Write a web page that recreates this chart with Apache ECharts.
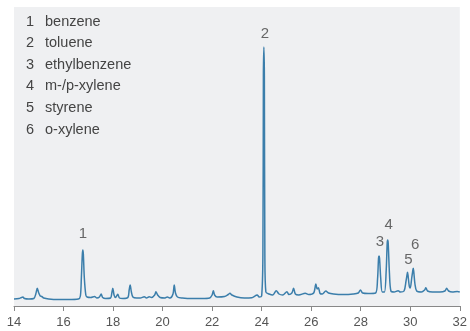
<!DOCTYPE html>
<html>
<head>
<meta charset="utf-8">
<script src="https://cdn.jsdelivr.net/npm/echarts@6/dist/echarts.min.js"></script>
<style>html,body{margin:0;padding:0;background:#fff}#c{width:470px;height:331px}</style>
</head>
<body>
<div id="c"></div>
<script>
// retention time (min)
var times = [
  14.00,14.2,14.3,14.36,14.42,14.6,14.8,14.88,14.94,15.0,
  15.06,15.12,15.2,15.4,15.8,16.2,16.6,16.68,16.72,16.76,
  16.78,16.80,16.84,16.9,16.95,17.1,17.25,17.35,17.45,17.52,
  17.58,17.7,17.9,17.95,17.99,18.04,18.1,18.19,18.26,18.4,
  18.6,18.65,18.69,18.74,18.8,18.95,19.1,19.26,19.35,19.46,
  19.55,19.68,19.73,19.8,19.9,20.1,20.19,20.3,20.42,20.47,
  20.52,20.6,20.8,21.2,21.6,21.9,22.0,22.05,22.1,22.2,
  22.5,22.65,22.72,22.8,23.0,23.3,23.6,23.82,23.9,24.0,
  24.05,24.07,24.09,24.11,24.13,24.17,24.3,24.45,24.59,24.7,
  24.85,25.02,25.1,25.22,25.29,25.36,25.5,25.76,25.9,26.1,
  26.19,26.24,26.29,26.36,26.45,26.59,26.7,26.9,27.3,27.7,
  27.9,27.99,28.08,28.3,28.6,28.68,28.72,28.74,28.76,28.81,
  28.87,28.96,29.03,29.07,29.09,29.11,29.16,29.22,29.35,29.51,
  29.6,29.75,29.83,29.87,29.89,29.91,29.96,30.0,30.06,30.10,
  30.12,30.14,30.19,30.26,30.45,30.58,30.63,30.7,30.9,31.2,
  31.4,31.47,31.55,31.7,31.9,32.0
];
// detector signal (arbitrary units)
var signal = [
  7,7.5,8.5,9,7.5,7,7.5,12,17.7,13,
  10,9.5,8,7,6.5,6.5,7,10,28,52,
  56,52,28,11,9,8.5,9.5,8,9,12,
  8.5,7.5,8,13,17.7,11,8.5,11.7,8,7.5,
  8.5,16,21,14,9,8,8,9.3,8,9.3,
  8.5,11,14.3,11,8.5,8,9,8,12,21,
  13,9,8,7.5,7.5,8,11,15.3,11,9,
  9.5,11.5,12.7,11,9,8,8.3,11,9,10,
  50,230,259,230,50,14,12,11,15.3,12,
  11,14.3,11.5,13,17.7,12,11,12.7,11.5,13,
  22,17,18.3,12.5,12,15,13,12,11.5,12,
  13,16,13,12.5,13,27,48,50,48,27,
  14,14,36,63,66,63,33,15,14,15.3,
  14,15,25,31,33.7,31,20,18,28,35,
  37.7,35,22,15,14,16,18.3,15,14,14,
  15,17.7,15,14,14.5,14
];
// numbered peaks
var peakNumbers = ['1','2','3','4','5','6'];
var peakTimes = [16.78,24.09,28.74,29.09,29.89,30.12];
var peakTops = [56,259,50,66,33.7,37.7];
var compounds = ['benzene','toluene','ethylbenzene','m-/p-xylene','styrene','o-xylene'];
var xTicks = [14,16,18,20,22,24,26,28,30,32];

var chart = echarts.init(document.getElementById('c'), null, {renderer:'canvas'});
var lineData = times.map(function(t,i){return [t, signal[i]];});
var labelDist = [9,6,7,8,5,16];
var labelDx = [0,1,1,1,1,2];
var peakData = peakTimes.map(function(t,i){
  return {value:[t, peakTops[i]], label:{formatter:peakNumbers[i], distance:labelDist[i], offset:[labelDx[i],0]}};
});
var g = [];
compounds.forEach(function(n,i){
  g.push({type:'text', left:26, top:14+i*21.6, style:{text:peakNumbers[i], font:'14.5px "Liberation Sans", Arial, sans-serif', fill:'#444'}});
  g.push({type:'text', left:45, top:14+i*21.6, style:{text:n, font:'14.5px "Liberation Sans", Arial, sans-serif', fill:'#444'}});
});
chart.setOption({
  animation:false,
  grid:{left:14,right:8,top:7,bottom:25,show:true,backgroundColor:'#eff0f2',borderWidth:0},
  xAxis:{type:'value',min:14,max:32,interval:2,offset:3,
    axisLine:{lineStyle:{color:'#888',width:1}},
    axisTick:{length:5,lineStyle:{color:'#888'}},
    axisLabel:{color:'#555',fontSize:13,margin:7,fontFamily:'Liberation Sans, Arial, sans-serif',
      formatter:function(v){return xTicks.indexOf(v)>=0?String(v):'';}},
    splitLine:{show:false}},
  yAxis:{type:'value',min:0,max:299,show:false,splitLine:{show:false}},
  graphic:g,
  series:[
    {type:'line',data:lineData,symbol:'none',smooth:0.3,lineStyle:{color:'#3b7eab',width:1.5},z:2},
    {type:'scatter',data:peakData,symbolSize:0,silent:true,
      label:{show:true,position:'top',color:'#444',fontSize:15,fontFamily:'Liberation Sans, Arial, sans-serif'},z:3}
  ]
});
</script>
</body>
</html>
